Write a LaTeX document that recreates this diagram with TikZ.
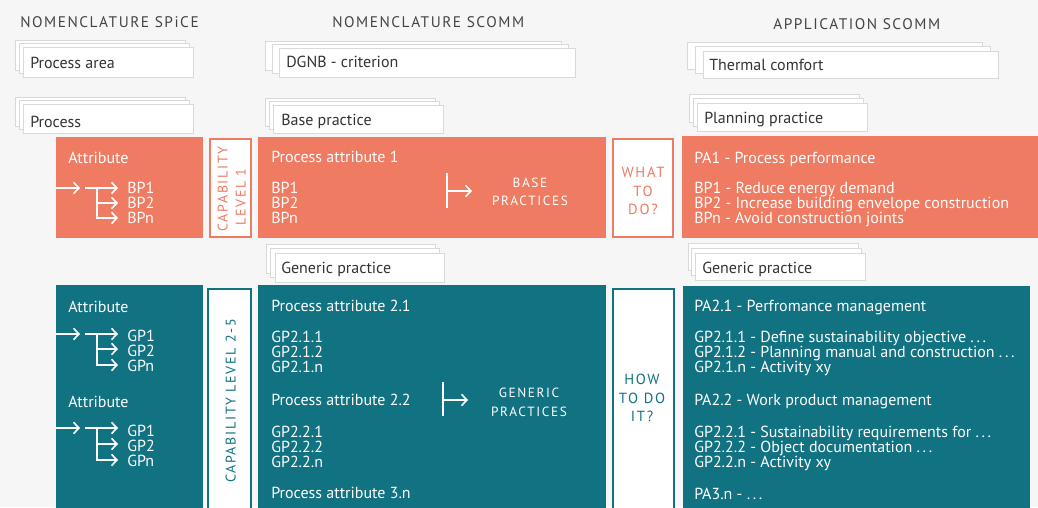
\documentclass[tikz,border=0pt]{standalone}
\usepackage{fontspec}
\setmainfont{PT Sans}
\newfontfamily\spc[LetterSpace=12]{PT Sans}
\newfontfamily\hdf[LetterSpace=10]{PT Sans}
\usetikzlibrary{arrows.meta}
\definecolor{bgc}{HTML}{F6F6F6}
\definecolor{salc}{HTML}{EE7B62}
\definecolor{tealc}{HTML}{117282}
\definecolor{txtc}{HTML}{333333}
\definecolor{hdc}{HTML}{444444}
\definecolor{stkc}{HTML}{D9D9D9}
\tikzset{
 lbl/.style={anchor=base west, inner sep=0pt, font=\fontsize{12}{14}\selectfont},
 dk/.style={lbl, text=txtc},
 wt/.style={lbl, text=white},
 hdr/.style={anchor=base west, inner sep=0pt, text=hdc, font=\hdf\fontsize{11.5}{13}\selectfont},
 captxt/.style={inner sep=0pt, font=\spc\fontsize{10.5}{12}\selectfont, text height=7pt, text depth=0pt},
 ctr/.style={anchor=base, inner sep=0pt, font=\spc\fontsize{10}{12}\selectfont},
 qtxt/.style={anchor=base, inner sep=0pt, font=\spc\fontsize{11}{12}\selectfont},
 arr/.style={draw=white, line width=1.2pt, -{Straight Barb[length=4pt,width=8.5pt]}},
 bar/.style={draw=white, line width=1.2pt},
 stkb/.style={draw=stkc, fill=white, line width=0.75pt},
 frm/.style={fill=white, line width=1.5pt},
}
\newcommand\stkrect[6]{%
 \path[stkb] (#1-2*#5,#2-2*#6) rectangle (#3-2*#5,#4-2*#6);
 \path[stkb] (#1-#5,#2-#6) rectangle (#3-#5,#4-#6);
 \path[stkb] (#1,#2) rectangle (#3,#4);}
\newcommand\attrtree[3]{%
 \draw[arr] (56,#1) -- (80,#1);
 \draw[arr] (85,#1) -- (118,#1);
 \draw[arr] (97,#1) |- (118,#3);
 \draw[arr] (97,#2) -- (118,#2);}
\begin{document}
\begin{tikzpicture}[x=0.75pt,y=-0.75pt]
\path[fill=bgc] (0,0) rectangle (1038,507);
\useasboundingbox (0,0) rectangle (1038,507);

% headers
\node[hdr] (h1) at (20,27) {NOMENCLATURE SPiCE};
\node[hdr] (h2) at (332,27) {NOMENCLATURE SCOMM};
\node[hdr] (h3) at (773,29) {APPLICATION SCOMM};

% stacked boxes
\stkrect{23}{47}{193}{77}{4}{3.5}
\node[dk] (s1) at (30,68) {Process area};
\stkrect{23}{104}{193}{133}{4}{3.5}
\node[dk] (s2) at (30,127) {Process};
\stkrect{279}{48}{575}{77}{7}{3.5}
\node[dk] (s3) at (286,67) {DGNB - criterion};
\stkrect{273}{105}{443}{133}{4}{3.5}
\node[dk] (s4) at (281,125) {Base practice};
\stkrect{703}{51}{998}{78}{8}{4.5}
\node[dk] (s5) at (709,70) {Thermal comfort};
\stkrect{697}{103}{867}{131}{4}{4.5}
\node[dk] (s6) at (704,123) {Planning practice};
\stkrect{275}{253}{444}{282}{4.5}{4.5}
\node[dk] (s7) at (281,273) {Generic practice};
\stkrect{695}{253}{865}{280}{3.5}{5}
\node[dk] (s8) at (702,273) {Generic practice};

% ---------- orange row ----------
\path[fill=salc] (56,137) rectangle (203,238);
\path[fill=salc] (258,137) rectangle (606,238);
\path[fill=salc] (682,136) rectangle (1038,238);
\path[frm, draw=salc] (210,139) rectangle (251,237);
\path[frm, draw=salc] (613,139) rectangle (673,237);

\node[wt] (oa) at (68,163) {Attribute};
\attrtree{188}{203}{218}
\node[wt] (ob1) at (127,193) {BP1};
\node[wt] (ob2) at (127,208) {BP2};
\node[wt] (ob3) at (127,223) {BPn};

\node[captxt, text=salc, rotate=90] (c1a) at (223,189) {CAPABILITY};
\node[captxt, text=salc, rotate=90] (c1b) at (241,197) {LEVEL 1};

\node[wt] (pa1) at (271,162) {Process attribute 1};
\node[wt] (mb1) at (271,193) {BP1};
\node[wt] (mb2) at (271,208) {BP2};
\node[wt] (mb3) at (271,223) {BPn};
\coordinate (ob) at (447,191);
\coordinate (obe) at (472,191);
\draw[bar] (447,173) -- (447,208);
\draw[arr] (ob) -- (obe);
\node[ctr, text=white] (bp1) at (530,187) {BASE};
\node[ctr, text=white] (bp2) at (530,205) {PRACTICES};

\node[qtxt, text=salc] (w1) at (643,177) {WHAT};
\node[qtxt, text=salc] (w2) at (643,196) {TO};
\node[qtxt, text=salc] (w3) at (643,214) {DO?};

\node[wt] (r1) at (694,163) {PA1 - Process performance};
\node[wt] (r2) at (694,193) {BP1 - Reduce energy demand};
\node[wt] (r3) at (694,208) {BP2 - Increase building envelope construction};
\node[wt] (r4) at (694,223) {BPn - Avoid construction joints};

% ---------- teal row ----------
\path[fill=tealc] (56,285) rectangle (203,512);
\path[fill=tealc] (258,285) rectangle (606,512);
\path[fill=tealc] (683,286) rectangle (1030,512);
\path[frm, draw=tealc] (208,289) rectangle (251,515);
\path[frm, draw=tealc] (613,289) rectangle (674,515);

\node[wt] (ta1) at (68,312) {Attribute};
\attrtree{334}{349}{365}
\node[wt] (tg1) at (127,341) {GP1};
\node[wt] (tg2) at (127,356) {GP2};
\node[wt] (tg3) at (127,371) {GPn};
\node[wt] (ta2) at (68,407) {Attribute};
\attrtree{428}{444}{460}
\node[wt] (tg4) at (127,436) {GP1};
\node[wt] (tg5) at (127,451) {GP2};
\node[wt] (tg6) at (127,466) {GPn};

\node[captxt, text=tealc, rotate=90] (c2) at (231,401) {CAPABILITY LEVEL 2-5};

\node[wt] (m1) at (271,311) {Process attribute 2.1};
\node[wt] (m2) at (271,342) {GP2.1.1};
\node[wt] (m3) at (271,357) {GP2.1.2};
\node[wt] (m4) at (271,372) {GP2.1.n};
\node[wt] (m5) at (271,405) {Process attribute 2.2};
\node[wt] (m6) at (271,437) {GP2.2.1};
\node[wt] (m7) at (271,452) {GP2.2.2};
\node[wt] (m8) at (271,467) {GP2.2.n};
\node[wt] (m9) at (271,498) {Process attribute 3.n};
\coordinate (tb) at (443,400);
\coordinate (tbe) at (468,400);
\draw[bar] (443,382) -- (443,416);
\draw[arr] (tb) -- (tbe);
\node[ctr, text=white] (gp1) at (529,397) {GENERIC};
\node[ctr, text=white] (gp2) at (529,416) {PRACTICES};

\node[qtxt, text=tealc] (hw1) at (642,384) {HOW};
\node[qtxt, text=tealc] (hw2) at (642,403) {TO DO};
\node[qtxt, text=tealc] (hw3) at (642,421) {IT?};

\node[wt] (q1) at (694,311) {PA2.1 - Perfromance management};
\node[wt] (q2) at (694,342) {GP2.1.1 - Define sustainability objective .\,.\,.};
\node[wt] (q3) at (694,357) {GP2.1.2 - Planning manual and construction .\,.\,.};
\node[wt] (q4) at (694,372) {GP2.1.n - Activity xy};
\node[wt] (q5) at (694,405) {PA2.2 - Work product management};
\node[wt] (q6) at (694,437) {GP2.2.1 - Sustainability requirements for .\,.\,.};
\node[wt] (q7) at (694,452) {GP2.2.2 - Object documentation .\,.\,.};
\node[wt] (q8) at (694,467) {GP2.2.n - Activity xy};
\node[wt] (q9) at (694,499) {PA3.n - .\,.\,.};
\end{tikzpicture}
\end{document}
